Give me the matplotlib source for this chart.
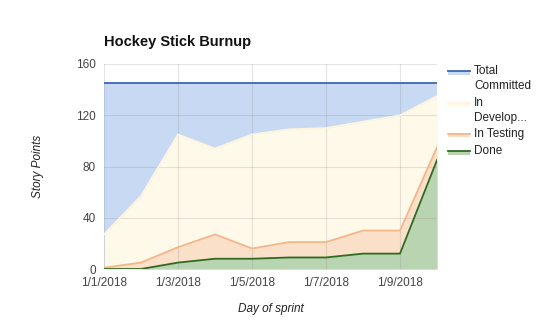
import matplotlib
matplotlib.use('Agg')
import matplotlib.pyplot as plt
from matplotlib.lines import Line2D
from matplotlib.patches import Rectangle

plt.rcParams['font.family'] = ['Liberation Sans', 'DejaVu Sans']

#%% data
days = [1, 2, 3, 4, 5, 6, 7, 8, 9, 10]
total_committed = [145, 145, 145, 145, 145, 145, 145, 145, 145, 145]
in_development = [27, 57, 105, 94, 105, 109, 110, 115, 120, 135]
in_testing = [1, 5, 17, 27, 16, 21, 21, 30, 30, 95]
done = [0, 0, 5, 8, 8, 9, 9, 12, 12, 85]

tick_days = [1, 3, 5, 7, 9]
tick_labels = ['1/1/2018', '1/3/2018', '1/5/2018', '1/7/2018', '1/9/2018']
y_ticks = [0, 40, 80, 120, 160]

series = [
    # name, values, fill colour, line colour
    ('Total\nCommitted', total_committed, '#c8d9f4', '#3a68b0'),
    ('In\nDevelop...', in_development, '#fef9e9', '#fdf5de'),
    ('In Testing', in_testing, '#fae0c9', '#f2b68a'),
    ('Done', done, '#b9d4b0', '#2f6a22'),
]

#%% figure
fig = plt.figure(figsize=(5.4, 3.34), dpi=100)
ax = fig.add_axes([104/540, 1-269/334, 333/540, 205/334])

for name, vals, fc, lc in series:
    ax.fill_between(days, 0, vals, color=fc, lw=0, zorder=1)
    ax.plot(days, vals, color=lc, lw=1.3, zorder=3)

# light grid on top of the areas
for d in tick_days:
    ax.axvline(d, color='#888888', lw=0.8, alpha=0.22, zorder=2)
for v in y_ticks[1:]:
    ax.axhline(v, color='#888888', lw=0.8, alpha=0.22, zorder=2)

ax.set_xlim(1, 10)
ax.set_ylim(0, 160)
ax.set_xticks(tick_days)
ax.set_xticklabels(tick_labels)
ax.set_yticks(y_ticks)
ax.tick_params(length=0, labelsize=8.5, labelcolor='#444444', pad=6)
for s in ax.spines.values():
    s.set_visible(False)
ax.set_facecolor('white')

ax.set_xlabel('Day of sprint', fontsize=8.5, style='italic', color='#222222', labelpad=10)
ax.set_ylabel('Story Points', fontsize=8.5, style='italic', color='#222222', labelpad=23)

fig.text(104/540, 1-42/334, 'Hockey Stick Burnup', fontsize=10.5, weight='bold',
         va='center', ha='left', color='#111111')

#%% legend drawn by hand
leg_rows = [69, 101, 132, 149]
for (name, vals, fc, lc), yy in zip(series, leg_rows):
    yf = 1 - (yy + 1.5)/334
    fig.patches.append(Rectangle((448/540, yf - 4/334), 22/540, 4/334,
                                 transform=fig.transFigure, color=fc, lw=0))
    fig.lines.append(Line2D([448/540, 470/540], [yf, yf], transform=fig.transFigure,
                            color=lc, lw=1.3))
    fig.text(474/540, 1 - (yy - 4)/334, name, fontsize=8.5, color='#222222',
             va='top', ha='left', linespacing=1.3,
             transform=fig.transFigure)

fig.savefig('out.png', dpi=100)
